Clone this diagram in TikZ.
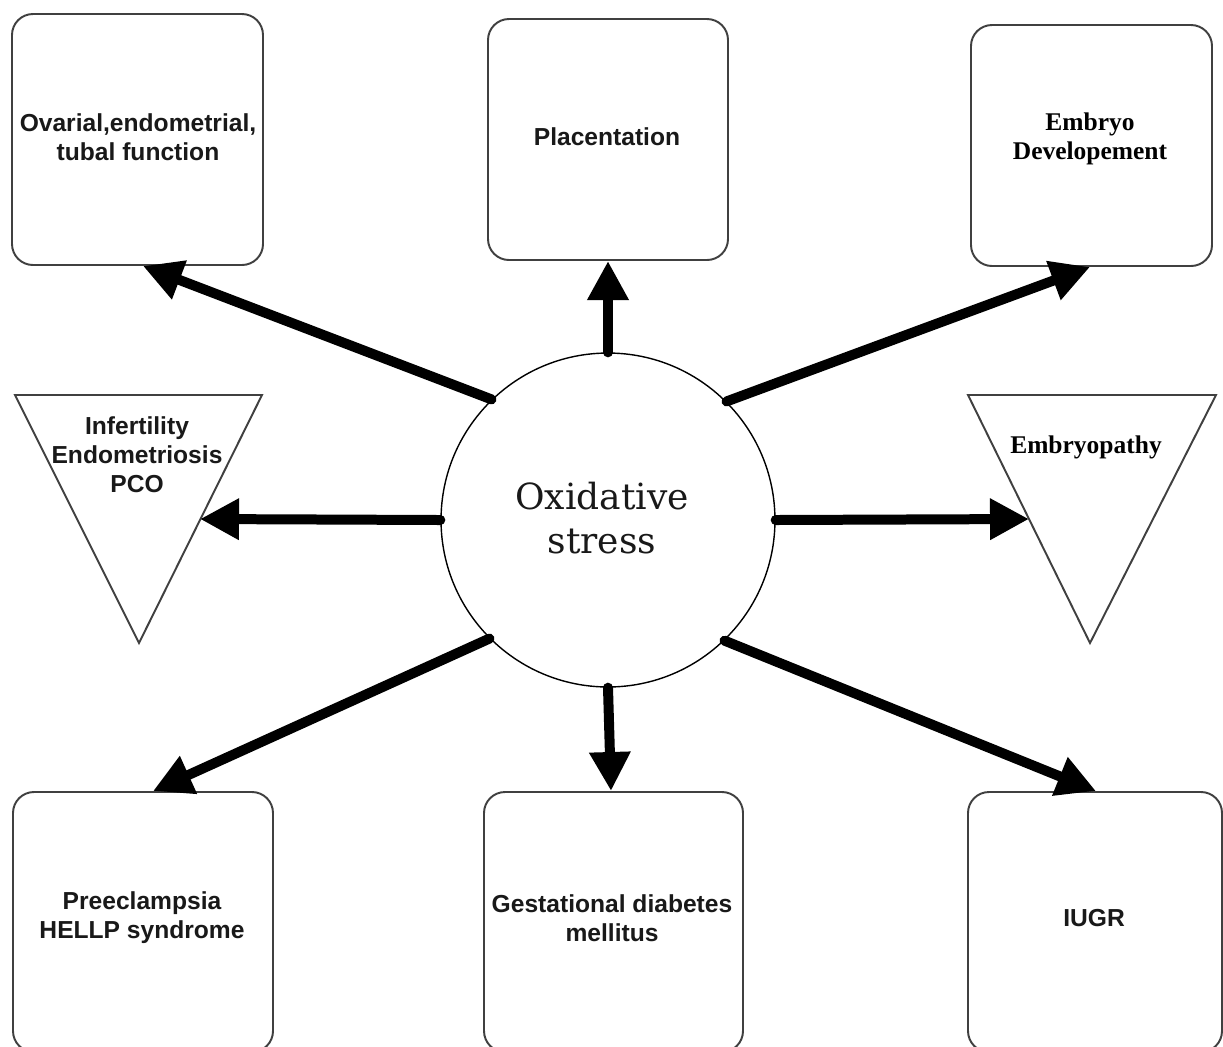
\documentclass[tikz,border=0pt]{standalone}
\usepackage{fontspec}
\newfontfamily\arialf{Liberation Sans}
\newfontfamily\seriff{Liberation Serif}
\newfontfamily\centf{DejaVu Serif}
\usetikzlibrary{arrows.meta,calc}
\begin{document}
\begin{tikzpicture}[x=0.02cm,y=-0.02cm,
  box/.style={draw=black!75,line width=1.1pt,rounded corners=0.42cm,fill=white,inner sep=0pt},
  tri/.style={draw=black!75,line width=1.1pt,fill=white,line join=miter},
  lab/.style={font=\arialf\bfseries\fontsize{14}{16.5}\selectfont,align=center,text=black!90},
  slab/.style={font=\seriff\bfseries\fontsize{14.5}{16.5}\selectfont,align=center},
  big/.style={-{Triangle[width=0.78cm,length=0.78cm]},line width=0.2cm,line cap=round}]
\clip (0,0) rectangle (1223,1046);
\fill[white] (0,0) rectangle (1223,1046);
% top boxes
\draw[box] (12,14) rectangle (263,265);
\node[lab] (b1) at (138,137) {Ovarial,endometrial,\\tubal function};
\coordinate (b1s) at (143,266);
\draw[box] (488,19) rectangle (728,260);
\node[lab] (b2) at (607,137) {Placentation};
\coordinate (b2s) at (608,261);
\draw[box] (971,25) rectangle (1212,266);
\node[slab] (b3) at (1090,139) {Embryo\\Developement};
\coordinate (b3s) at (1090,267);
% bottom boxes
\draw[box] (13,792) rectangle (273,1052);
\node[lab] (b7) at (142,918) {Preeclampsia\\HELLP syndrome};
\coordinate (b7n) at (153,791);
\draw[box] (484,792) rectangle (743,1052);
\node[lab] (b8) at (612,918) {Gestational diabetes\\mellitus};
\coordinate (b8n) at (611,791);
\draw[box] (968,792) rectangle (1222,1052);
\node[lab] (b9) at (1094,918) {IUGR};
\coordinate (b9n) at (1096,791);
% triangles
\draw[tri] (15,395) -- (262,395) -- (139,643) -- cycle;
\node[lab] (t1) at (137,455) {Infertility\\Endometriosis\\PCO};
\coordinate (t1e) at (200,519);
\draw[tri] (968,395) -- (1216,395) -- (1090,643) -- cycle;
\node[slab] (t2) at (1086,447) {Embryopathy};
\coordinate (t2e) at (1029,519);
% centre
\node[draw,circle,line width=0.8pt,minimum size=6.68cm,fill=white] (os) at (608,520) {};
\node[font=\centf\fontsize{20.5}{25.5}\selectfont,align=center,text=black!90] (ost) at (602,518) {Oxidative\\stress};
% arrows
\draw[big] (os.90) -- (b2s);
\draw[big] (os.134.5) -- (b1s);
\draw[big] (os.45.5) -- (b3s);
\draw[big] (os.180) -- (t1e);
\draw[big] (os.0) -- (t2e);
\draw[big] (os.225.5) -- (b7n);
\draw[big] (os.270) -- (b8n);
\draw[big] (os.314.5) -- (b9n);
\end{tikzpicture}
\end{document}
